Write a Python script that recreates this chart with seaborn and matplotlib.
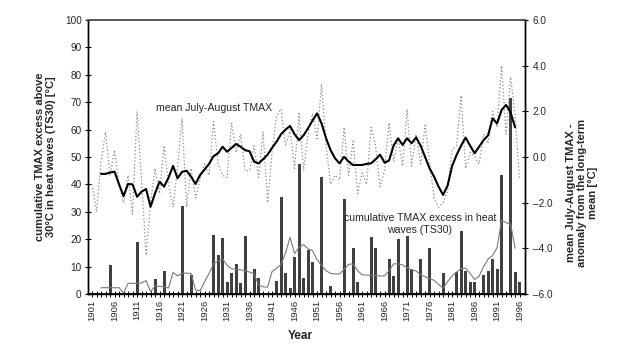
import matplotlib
matplotlib.use("Agg")
import matplotlib.pyplot as plt
import seaborn as sns
from matplotlib.ticker import FixedLocator

sns.set_theme(style="white")
plt.rcParams['font.family'] = ['Liberation Sans', 'DejaVu Sans']

# ---------------- data ----------------
years = list(range(1901, 1997))

# cumulative TMAX excess above 30 C in heat waves (TS30), bars, left axis
ts30 = [0, 0, 0, 0, 10.6, 0, 0, 0, 0, 0,
        19.1, 0, 0, 0, 5.4, 0, 8.5, 0, 0, 0,
        32.1, 0, 6.8, 0, 0, 0, 0, 21.4, 14.4, 20.3,
        4.3, 7.5, 10.8, 3.9, 21.2, 0, 9.2, 5.7, 0, 0,
        0, 4.7, 35.5, 7.5, 2.2, 13.6, 47.4, 5.8, 16.1, 11.8,
        0, 42.8, 0, 2.9, 0, 0, 34.8, 0, 16.7, 4.2,
        0, 0, 20.9, 16.8, 0, 0, 12.9, 6.4, 19.9, 0,
        21.0, 9.1, 0, 12.6, 0, 16.7, 0, 0, 7.5, 0,
        0, 8.0, 23.0, 8.5, 4.5, 4.5, 0, 6.9, 8.3, 12.7,
        9.3, 43.4, 0, 71.4, 8.2, 4.5]

# smoothed TS30 (thin grey line), left axis
smooth_years = list(range(1903, 1996))
ts30_smooth = [2.3, 2.3, 2.3, 2.3, 2.3, 0.3, 3.9, 3.9,
               3.9, 4.0, 4.9, 0.9, 2.9, 2.8, 2.6, 2.2, 7.9, 6.6,
               7.6, 7.6, 7.5, 1.5, 1.2, 4.5, 7.5, 11.0, 12.0, 12.8,
               10.5, 9.2, 9.0, 8.8, 8.6, 8.0, 7.3, 3.3, 2.6, 2.5,
               8.2, 9.4, 10.8, 15.0, 20.7, 14.8, 17.0, 18.0, 16.5, 15.8,
               12.5, 10.4, 8.5, 7.5, 7.3, 7.3, 9.0, 10.8, 11.0, 8.5,
               7.0, 6.9, 6.8, 6.7, 6.6, 6.6, 8.5, 11.0, 11.0, 10.6,
               9.6, 8.8, 8.4, 7.0, 6.3, 5.6, 5.0, 3.5, 2.1, 4.5,
               6.6, 8.0, 9.3, 9.5, 7.5, 5.3, 6.5, 10.0, 12.8, 14.0,
               17.0, 27.0, 26.0, 25.5, 16.7]

# annual mean July-August TMAX anomaly (dotted), right axis
tmax_anom = [-1.2, -2.4, -0.2, 1.1, -0.8, 0.3, -1.2, -2.0, -0.8, -2.5,
             2.0, -1.0, -4.3, -2.0, -0.5, -1.6, 0.5, -1.2, -2.2, -0.5,
             1.7, -2.2, -0.5, -1.8, -1.0, -0.3, -0.8, 1.55, -0.3, -0.8,
             -0.9, 1.5, 0.2, 1.0, -0.6, -0.6, 0.5, -0.9, 1.1, -2.0,
             0.2, 1.8, 2.1, 0.5, 1.2, -0.5, 1.9, -0.6, 1.0, 1.9,
             0.8, 3.2, 0.5, -1.2, -0.8, -1.0, 1.3, -0.8, 0.7, -1.6,
             -0.7, -1.2, 1.3, 0.5, -1.3, -0.6, 1.5, -0.2, 0.8, -0.4,
             2.1, -0.4, 1.0, -0.3, 1.4, -0.2, -1.8, -2.2, -2.0, -1.5,
             0.3, 0.5, 2.7, -0.5, 0.2, 0.0, -0.3, 1.0, 0.6, 2.0,
             1.3, 4.0, 1.0, 3.5, 1.8, -1.0]

# smoothed TMAX anomaly (thick black), right axis
tmax_smooth = [-0.74, -0.74, -0.68, -0.64, -1.2, -1.71, -1.18, -1.2,
               -1.74, -1.52, -1.4, -2.18, -1.59, -1.08, -1.3, -0.9, -0.39, -0.93,
               -0.65, -0.6, -0.86, -1.18, -0.79, -0.55, -0.3, 0.04, 0.16, 0.45,
               0.23, 0.4, 0.57, 0.45, 0.3, 0.25, -0.2, -0.28, -0.1, 0.1,
               0.4, 0.67, 1.0, 1.2, 1.36, 1.0, 0.74, 0.95, 1.26, 1.6,
               1.91, 1.47, 0.82, 0.3, -0.06, -0.28, 0.01, -0.2, -0.35, -0.35,
               -0.35, -0.3, -0.28, -0.1, 0.1, -0.25, -0.15, 0.5, 0.82, 0.53,
               0.82, 0.6, 0.86, 0.5, 0.0, -0.5, -0.86, -1.3, -1.66, -1.25,
               -0.4, 0.09, 0.5, 0.85, 0.5, 0.16, 0.45, 0.74, 0.95, 1.69,
               1.47, 2.06, 2.28, 1.95, 1.3]

xtick_years = list(range(1901, 1997, 5))
left_ticks = list(range(0, 101, 10))
right_ticks = [-6, -4, -2, 0, 2, 4, 6]

# ---------------- figure ----------------
W, H = 625, 351
fig = plt.figure(figsize=(W / 100, H / 100), dpi=100)
L, R, T, B = 88, 525, 20, 294
ax = fig.add_axes([L / W, 1 - B / H, (R - L) / W, (B - T) / H])

# categorical bars: category i <-> year 1901 + i
sns.barplot(x=years, y=ts30, color='#404040', saturation=1, width=0.68,
            errorbar=None, linewidth=0, ax=ax, zorder=2)
pos_smooth = [y - years[0] for y in smooth_years]
pos_all = [y - years[0] for y in years]
sns.lineplot(x=pos_smooth, y=ts30_smooth, color='#7a7a7a', lw=0.8,
             ax=ax, zorder=3)
XL = (-0.9, 96.2)
ax.set_xlim(*XL)
ax.set_ylim(0, 100)

ax2 = ax.twinx()
sns.lineplot(x=pos_all, y=tmax_anom, color='#8a8a8a', lw=0.9,
             linestyle=(0, (1, 1.8)), ax=ax2)
sns.lineplot(x=pos_smooth, y=tmax_smooth, color='black', lw=1.5, ax=ax2)
ax2.set_ylim(-6, 6)
ax2.set_xlim(*XL)

# ticks
xt = [y - years[0] for y in xtick_years]
ax.xaxis.set_major_locator(FixedLocator(xt))
ax.xaxis.set_minor_locator(FixedLocator(pos_all))
ax.set_xticklabels([str(y) for y in xtick_years], rotation=90, fontsize=6.8)
ax.tick_params(axis='x', which='both', direction='inout', length=4,
               width=0.7, color='black', bottom=True, pad=2)
ax.set_yticks(left_ticks)
ax.set_yticklabels([str(v) for v in left_ticks], fontsize=7.2)
ax.tick_params(axis='y', direction='inout', length=5, width=0.8,
               color='black', left=True, pad=2)
ax2.set_yticks(right_ticks)
ax2.set_yticklabels([f"{v:.1f}".replace('-', '\u2013') for v in right_ticks],
                    fontsize=7.2)
ax2.tick_params(axis='y', direction='inout', length=5, width=0.8,
                color='black', right=True, pad=3)

for a in (ax, ax2):
    for s in a.spines.values():
        s.set_color('black')
        s.set_linewidth(1.0)
    a.spines['top'].set_color('#555555')
    a.spines['top'].set_linewidth(1.2)
    a.grid(False)
ax.spines['bottom'].set_linewidth(1.3)

# labels
ax.set_xlabel('Year', fontsize=8.5, fontweight='bold')
ax.xaxis.set_label_coords((300 - L) / (R - L), (B - 330) / (B - T))
ax.set_ylabel('cumulative TMAX excess above\n30\u00b0C in heat waves (TS30) [\u00b0C]',
              fontsize=8, fontweight='bold', linespacing=1.1)
ax.yaxis.set_label_coords((56 - L) / (R - L), 0.5)
ax2.set_ylabel('mean July-August TMAX -\nanomaly from the long-term\nmean [\u00b0C]',
               fontsize=8, fontweight='bold', rotation=90, linespacing=1.1)
ax2.yaxis.set_label_coords((566 - L) / (R - L), (B - 193) / (B - T))

ax.text((214 - L) / (R - L), (B - 108) / (B - T), 'mean July-August TMAX',
        transform=ax.transAxes, ha='center', va='center', fontsize=7.6)
ax.text((420 - L) / (R - L), (B - 224) / (B - T),
        'cumulative TMAX excess in heat\nwaves (TS30)',
        transform=ax.transAxes, ha='center', va='center', fontsize=7.6,
        linespacing=1.15)

fig.savefig('out.png', dpi=100)
